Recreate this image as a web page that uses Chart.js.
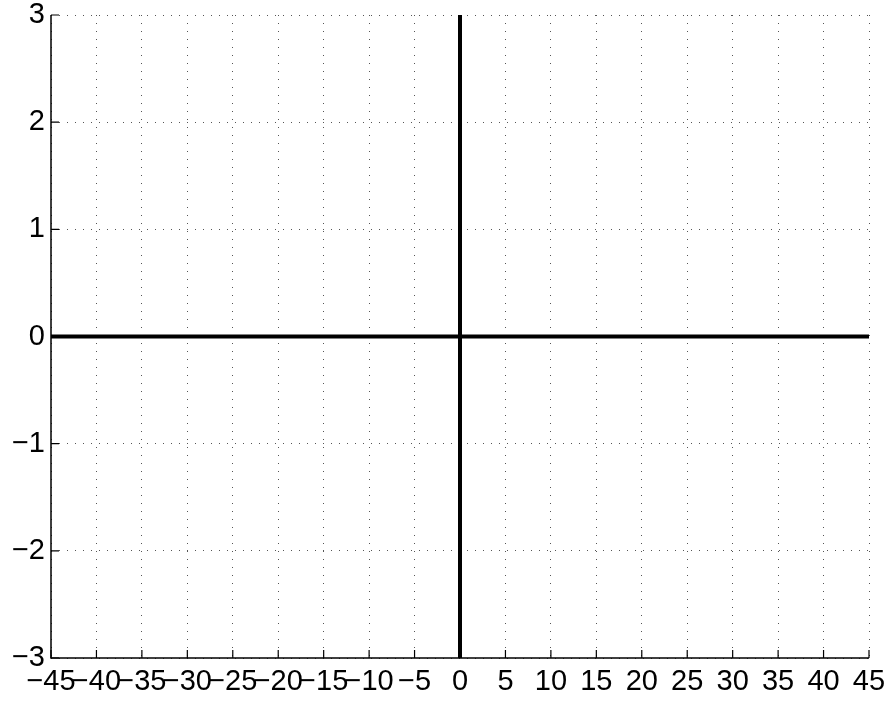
<!DOCTYPE html>
<html>
<head>
<meta charset="utf-8">
<script src="https://cdn.jsdelivr.net/npm/chart.js@4/dist/chart.umd.min.js"></script>
<style>
  html, body { margin: 0; padding: 0; background: #fff; }
  #wrap { width: 891px; height: 704px; }
</style>
</head>
<body>
<div id="wrap"><canvas id="chart" width="891" height="704"></canvas></div>
<script>
// --- DATA ---
const xTicks = [-45, -40, -35, -30, -25, -20, -15, -10, -5, 0, 5, 10, 15, 20, 25, 30, 35, 40, 45];
const yTicks = [-3, -2, -1, 0, 1, 2, 3];
const horizX = [-45, 45];
const horizY = [0, 0];
const vertX = [0, 0];
const vertY = [-3, 3];

const FONT = "'Liberation Sans', Arial, sans-serif";
const fmt = v => String(v).replace('-', '\u2212');

// axes drawn by hand so the ticks can point inward (matlab style)
const axesPlugin = {
    id: 'inwardAxes',
    afterDatasetsDraw(chart) {
        const { ctx, chartArea: a, scales: { x, y } } = chart;
        ctx.save();
        ctx.strokeStyle = '#000';
        ctx.lineWidth = 1.5;
        ctx.beginPath();
        ctx.moveTo(a.left, a.top);
        ctx.lineTo(a.left, a.bottom);
        ctx.lineTo(a.right, a.bottom);
        ctx.stroke();
        ctx.lineWidth = 1.2;
        ctx.beginPath();
        xTicks.forEach(v => {
            const px = x.getPixelForValue(v);
            ctx.moveTo(px, a.bottom);
            ctx.lineTo(px, a.bottom - 8);
        });
        yTicks.forEach(v => {
            const py = y.getPixelForValue(v);
            ctx.moveTo(a.left, py);
            ctx.lineTo(a.left + 8, py);
        });
        ctx.stroke();
        ctx.restore();
    }
};

const lineDs = (xs, ys) => ({
    data: xs.map((v, i) => ({ x: v, y: ys[i] })),
    showLine: true,
    borderColor: '#000',
    borderWidth: 4,
    pointRadius: 0,
    fill: false
});

new Chart(document.getElementById('chart'), {
    type: 'scatter',
    data: { datasets: [lineDs(horizX, horizY), lineDs(vertX, vertY)] },
    options: {
        responsive: false,
        animation: false,
        layout: { padding: { top: 15, right: 22, left: 0, bottom: 0 } },
        plugins: { legend: { display: false }, tooltip: { enabled: false } },
        scales: {
            x: {
                type: 'linear',
                min: -45, max: 45,
                afterBuildTicks: s => { s.ticks = xTicks.map(v => ({ value: v })); },
                afterFit: s => {
                    s.height = 46;
                    s.paddingLeft = 0; s.paddingRight = 0;
                },
                grid: { color: '#555', lineWidth: 1, drawTicks: false },
                border: { display: false, dash: [1, 7] },
                ticks: {
                    color: '#000', padding: 9, maxRotation: 0, autoSkip: false,
                    font: { family: FONT, size: 29, lineHeight: 1 },
                    callback: fmt
                }
            },
            y: {
                type: 'linear',
                min: -3, max: 3,
                afterBuildTicks: s => { s.ticks = yTicks.map(v => ({ value: v })); },
                afterFit: s => {
                    s.width = 51;
                    s.paddingTop = 0; s.paddingBottom = 0;
                },
                grid: { color: '#555', lineWidth: 1, drawTicks: false },
                border: { display: false, dash: [1, 7] },
                ticks: {
                    color: '#000', padding: 6, autoSkip: false,
                    font: { family: FONT, size: 29, lineHeight: 1 },
                    callback: fmt
                }
            }
        }
    },
    plugins: [axesPlugin]
});
</script>
</body>
</html>
